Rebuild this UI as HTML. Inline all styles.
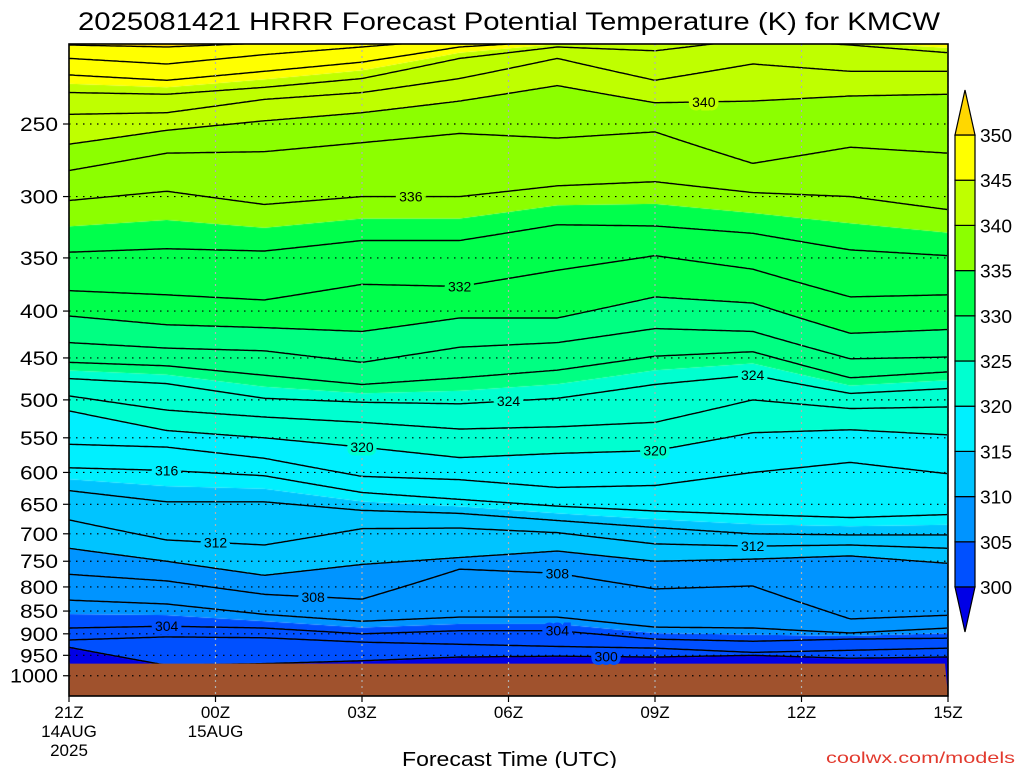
<!DOCTYPE html>
<html><head><meta charset="utf-8">
<style>
html,body{margin:0;padding:0;background:#fff;}
#wrap{position:relative;width:1024px;height:768px;overflow:hidden;font-family:"Liberation Sans",sans-serif;}
canvas,svg{position:absolute;left:0;top:0;}
</style></head>
<body>
<div id="wrap">
<canvas id="cv" width="1024" height="768"></canvas>
<svg id="sv" width="1024" height="768" xmlns="http://www.w3.org/2000/svg">
<text x="78" y="30" font-size="25" textLength="862" lengthAdjust="spacingAndGlyphs" fill="#000">2025081421 HRRR Forecast Potential Temperature (K) for KMCW</text>
<text x="402" y="766" font-size="20" textLength="215" lengthAdjust="spacingAndGlyphs" fill="#000">Forecast Time (UTC)</text>
<text x="826" y="763" font-size="16" textLength="189" lengthAdjust="spacingAndGlyphs" fill="#e23a2e">coolwx.com/models</text>
<g id="gLines"></g>
<g id="gGround"></g>
<g id="gGrid"></g>
<g id="gLabels"></g>
<g id="gAxes"></g>
<g id="gBar"></g>
</svg>
</div>
<script>
// ---- data ----
const hours = [0,2,4,6,8,10,12,14,16,18];
const xTickHours = [0,3,6,9,12,15,18];
const xTickLabels = ["21Z","00Z","03Z","06Z","09Z","12Z","15Z"];
const xDateLabels = [["14AUG","2025"],["15AUG"],[],[],[],[],[]];
const yTickPressures = [250,300,350,400,450,500,550,600,650,700,750,800,850,900,950,1000];
const surfacePressure = [970,970,970,970,970,970,970,970,970,970];
const barLevels = [300,305,310,315,320,325,330,335,340,345,350];
// pressure (hPa) of each isentrope at each sample hour
const p296 = [1060,1060,1060,1060,1060,1060,1060,1060,1060,1060];
const p298 = [990,990,990,990,990,990,990,990,990,990];
const p300 = [931,974,970,963,954,952,954,950,957,954];
const p302 = [914,907,909,919,924,929,933,943,938,933];
const p304 = [887,883,887,900,893,893,912,917,912,910];
const p306 = [827,835,857,872,863,863,885,887,898,887];
const p308 = [775,788,815,825,765,773,804,798,867,859];
const p310 = [726,750,777,756,743,731,750,746,740,754];
const p312 = [676,711,720,691,690,698,718,722,720,726];
const p314 = [628,646,646,660,665,677,689,700,702,702];
const p316 = [593,597,605,631,642,653,661,667,672,667];
const p318 = [559,563,579,606,611,623,620,600,585,602];
const p320 = [514,540,550,563,578,572,568,543,539,546];
const p322 = [495,513,522,529,538,535,529,500,511,509];
const p324 = [474,480,498,503,505,498,481,470,492,486];
const p326 = [455,459,470,481,473,464,448,443,473,466];
const p328 = [433,439,442,455,438,433,418,421,451,449];
const p330 = [405,414,417,421,407,407,386,392,423,419];
const p332 = [380,384,389,374,376,361,348,360,386,384];
const p334 = [345,342,344,335,335,322,323,329,343,348];
const p336 = [303,296,306,300,300,292,289,297,300,310];
const p338 = [281,269,268,262,256,259,255,276,265,269];
const p340 = [263,254,248,243,236,227,237,236,233,232];
const p342 = [244,243,235,231,223,212,224,215,219,219];
const p344 = [231,232,228,223,212,206,208,202,205,209];
const p346 = [221,224,219,214,206,203,202,201,202,204];
const p348 = [212,215,210,206,202,200,200,199,200,202];
const p350 = [205,206,204,204,202,201,200,200,201,202];
const p352 = [190,190,190,190,190,190,190,190,190,190];
const levels = [296,298,300,302,304,306,308,310,312,314,316,318,320,322,324,326,328,330,332,334,336,338,340,342,344,346,348,350,352];
const levelPressures = [p296,p298,p300,p302,p304,p306,p308,p310,p312,p314,p316,p318,p320,p322,p324,p326,p328,p330,p332,p334,p336,p338,p340,p342,p344,p346,p348,p350,p352];
const labelLevels = [340,336,332,324,324,320,320,316,312,312,308,308,304,304,300];
const labelHours  = [13,7,8,14,9,6,12,2,3,14,5,10,2,10,11];

// ---- scales ----
const X0=69, X1=948, Y0=44, Y1=696;
function xOf(h){ return X0 + (X1-X0)*h/18; }
function yOf(p){ return 124 + 398*Math.log(p/250); }
function interpH(arr,h){
  if(h<=hours[0]) return arr[0];
  for(let i=0;i<hours.length-1;i++){
    if(h<=hours[i+1]){ const f=(h-hours[i])/(hours[i+1]-hours[i]); return arr[i]+(arr[i+1]-arr[i])*f; }
  }
  return arr[arr.length-1];
}
function levelYs(h){ return levelPressures.map(a=>yOf(interpH(a,h))); }
function yOfTheta(ys,th){
  for(let i=0;i<levels.length-1;i++){
    if(th>=levels[i] && th<=levels[i+1]){ const f=(th-levels[i])/(levels[i+1]-levels[i]); return ys[i]+(ys[i+1]-ys[i])*f; }
  }
  return th<levels[0]?Y1+50:Y0-50;
}
const bandColors=["#0000e6","#0050ff","#0094ff","#00c4ff","#00f0ff","#00ffd0","#00ff82","#00ff4c","#8cff00","#bfff00","#ffff00","#ffd700"];
function bandColor(th){ let k=Math.floor((th-300)/5)+1; return bandColors[Math.max(0,Math.min(11,k))]; }

// ---- fill ----
const ctx=document.getElementById('cv').getContext('2d');
ctx.fillStyle="#fff"; ctx.fillRect(0,0,1024,768);
for(let px=X0; px<X1; px++){
  const h=(px+0.5-X0)/(X1-X0)*18;
  const ys=levelYs(h);
  let bottom=Y1;
  for(let k=0;k<barLevels.length;k++){
    let yb=Math.max(Y0,Math.min(Y1,yOfTheta(ys,barLevels[k])));
    ctx.fillStyle=bandColors[k];
    if(bottom>yb) ctx.fillRect(px,yb,1,bottom-yb);
    bottom=Math.min(bottom,yb);
  }
  ctx.fillStyle=bandColors[11];
  if(bottom>Y0) ctx.fillRect(px,Y0,1,bottom-Y0);
}

const NS="http://www.w3.org/2000/svg";
function mk(tag,attrs,parent){ const e=document.createElementNS(NS,tag); for(const k in attrs) e.setAttribute(k,attrs[k]); parent.appendChild(e); return e; }

// clip for plot
const defs=mk('defs',{},document.getElementById('sv'));
const cp=mk('clipPath',{id:'plotClip'},defs);
mk('rect',{x:X0,y:Y0,width:X1-X0,height:Y1-Y0},cp);

// ---- contour lines ----
const gL=document.getElementById('gLines');
gL.setAttribute('clip-path','url(#plotClip)');
for(let li=0; li<levels.length; li++){
  const L=levels[li];
  if(L<300||L>350) continue;
  let d="";
  for(let px=X0; px<=X1; px+=2){
    const h=(px-X0)/(X1-X0)*18;
    const y=yOf(interpH(levelPressures[li],h));
    d+=(d?"L":"M")+px+" "+y.toFixed(1);
  }
  const path=mk('path',{d:d,fill:'none',stroke:'#000','stroke-width':'1.4'},gL);
  
  
}

// ---- ground ----
const gG=document.getElementById('gGround');
let gd="M"+X0+" "+Y1;
for(let px=X0; px<=X1; px+=4){
  const h=(px-X0)/(X1-X0)*18;
  gd+="L"+px+" "+yOf(interpH(surfacePressure,h)).toFixed(1);
}
gd+="L"+X1+" "+Y1+"Z";
const gp=mk('path',{d:gd,fill:'#a0522d'},gG);



// ---- grid ----
const gR=document.getElementById('gGrid');
yTickPressures.forEach(p=>{
  const y=yOf(p);
  const l=mk('line',{x1:X0,x2:X1,y1:y,y2:y,stroke:'#000','stroke-width':'1.2','stroke-dasharray':'1.5 5.5'},gR);
  
  
});
xTickHours.forEach(h=>{
  const x=xOf(h);
  const l=mk('line',{x1:x,x2:x,y1:Y0,y2:Y1,stroke:'#b0b0b0','stroke-width':'1.2','stroke-dasharray':'2 4'},gR);
  
  
});

// ---- contour labels ----
const gLab=document.getElementById('gLabels');
for(let i=0;i<labelLevels.length;i++){
  const L=labelLevels[i], h=labelHours[i];
  const li=levels.indexOf(L);
  const x=xOf(h), y=yOf(interpH(levelPressures[li],h));
  const t=mk('text',{x:x,y:y+5,'text-anchor':'middle','font-size':'14',fill:'#000',stroke:bandColor(L+0.5),'stroke-width':'7','paint-order':'stroke','font-family':'Liberation Sans, sans-serif'},gLab);
  t.textContent=String(L);
  
  
}

// ---- axes ----
const gA=document.getElementById('gAxes');
const fr=mk('rect',{x:X0,y:Y0,width:X1-X0,height:Y1-Y0,fill:'none',stroke:'#000','stroke-width':'1.6'},gA);


yTickPressures.forEach(p=>{
  const y=yOf(p);
  const tk=mk('line',{x1:X0-6,x2:X0,y1:y,y2:y,stroke:'#000','stroke-width':'1.2'},gA);
  
  
  const s=String(p);
  const t=mk('text',{x:s.length>3?10:20,y:y+7,'font-size':'19',textLength:s.length>3?48:38,lengthAdjust:'spacingAndGlyphs',fill:'#000'},gA);
  t.textContent=s;
  
  
});
xTickHours.forEach((h,i)=>{
  const x=xOf(h);
  const tk=mk('line',{x1:x,x2:x,y1:Y1,y2:Y1+6,stroke:'#000','stroke-width':'1.2'},gA);
  
  
  const t=mk('text',{x:x,y:718,'text-anchor':'middle','font-size':'17',fill:'#000'},gA);
  t.textContent=xTickLabels[i];
  
  
  xDateLabels[i].forEach((s,j)=>{
    const d=mk('text',{x:x,y:737+j*19,'text-anchor':'middle','font-size':'17',fill:'#000'},gA);
    d.textContent=s;
    
    
  });
});

// ---- colorbar ----
const gB=document.getElementById('gBar');
const BX0=955, BX1=975, BTOP=135, BSTEP=45.2;
function barY(v){ return BTOP + (350-v)/5*BSTEP; }
for(let k=1;k<barLevels.length;k++){
  const y0=barY(barLevels[k]), y1=barY(barLevels[k-1]);
  const r=mk('rect',{x:BX0,y:y0,width:BX1-BX0,height:y1-y0,fill:bandColors[k],stroke:'#000','stroke-width':'1.2'},gB);
  
  
}
const tTop=mk('polygon',{points:BX0+","+barY(350)+" "+BX1+","+barY(350)+" "+((BX0+BX1)/2)+","+(barY(350)-45),fill:bandColors[11],stroke:'#000','stroke-width':'1.2'},gB);


const tBot=mk('polygon',{points:BX0+","+barY(300)+" "+BX1+","+barY(300)+" "+((BX0+BX1)/2)+","+(barY(300)+45),fill:bandColors[0],stroke:'#000','stroke-width':'1.2'},gB);


barLevels.forEach(v=>{
  const t=mk('text',{x:980,y:barY(v)+7,'font-size':'18',textLength:32,lengthAdjust:'spacingAndGlyphs',fill:'#000'},gB);
  t.textContent=String(v);
  
  
});
</script>
</body></html>
